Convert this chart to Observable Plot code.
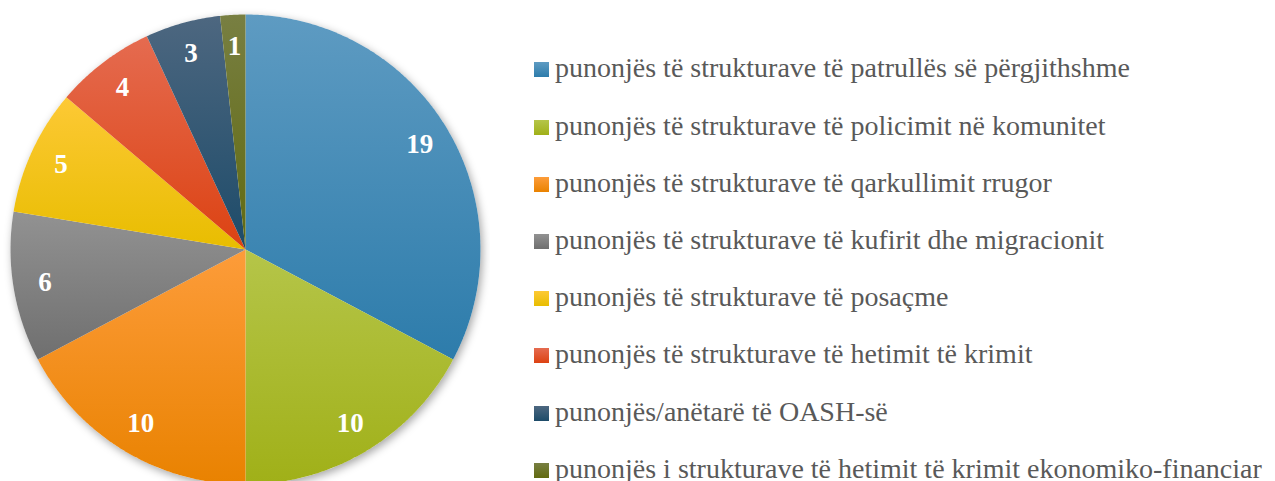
<!DOCTYPE html>
<html><head><meta charset="utf-8">
<script src="https://cdn.jsdelivr.net/npm/d3@7"></script>
<script src="https://cdn.jsdelivr.net/npm/@observablehq/plot@0.6"></script>
<style>
body{margin:0;background:#fff;}
#wrap{display:flex;width:1275px;height:481px;overflow:hidden;}
#chart{width:490px;flex-shrink:0;}
#legend{padding-left:44px;padding-top:41.4px;font-family:"Liberation Serif","Times New Roman",serif;font-size:28px;color:#595959;white-space:nowrap;}
.item{display:flex;align-items:center;height:57.2px;}
.sw{width:15px;height:15px;margin-right:6px;flex-shrink:0;}
.lbl{position:relative;top:-1.5px;}
</style></head>
<body><div id="wrap"><div id="chart"></div><div id="legend"></div></div>
<script>
const categories = [
  "punonjës të strukturave të patrullës së përgjithshme",
  "punonjës të strukturave të policimit në komunitet",
  "punonjës të strukturave të qarkullimit rrugor",
  "punonjës të strukturave të kufirit dhe migracionit",
  "punonjës të strukturave të posaçme",
  "punonjës të strukturave të hetimit të krimit",
  "punonjës/anëtarë të OASH-së",
  "punonjës i strukturave të hetimit të krimit ekonomiko-financiar"
];
const values = [19, 10, 10, 6, 5, 4, 3, 1];
const colorsTop = ["#5e9bc2", "#b5c549", "#fd9c3a", "#929292", "#fdc935", "#e56b50", "#4d6780", "#787f42"];
const colorsBottom = ["#2d7cab", "#a0b018", "#e98200", "#6f6f6f", "#e8bd00", "#dc4212", "#1d4b69", "#616a10"];

const total = d3.sum(values);
const labelR = 0.865;
let cum = 0;
const slices = values.map((v, i) => {
  const a0 = cum / total * 2 * Math.PI;
  cum += v;
  const a1 = cum / total * 2 * Math.PI;
  const n = Math.max(2, Math.ceil((a1 - a0) / (Math.PI / 360)));
  const pts = [{x: 0, y: 0}];
  for (let k = 0; k <= n; k++) {
    const a = a0 + (a1 - a0) * k / n;
    pts.push({x: Math.sin(a), y: Math.cos(a)});
  }
  const am = (a0 + a1) / 2;
  return {pts, label: {x: labelR * Math.sin(am), y: labelR * Math.cos(am), v: String(v)}};
});
const circle = d3.range(0, 721).map(k => ({x: Math.sin(k * Math.PI / 360), y: Math.cos(k * Math.PI / 360)}));

const marks = [
  Plot.line(circle, {x: "x", y: "y", fill: "#ffffff", stroke: "none", curve: "linear-closed"}),
  ...slices.map((s, i) => Plot.line(s.pts, {x: "x", y: "y", fill: `url(#g${i})`, stroke: "none", curve: "linear-closed"})),
  Plot.text(slices.map(s => s.label), {x: "x", y: "y", text: "v", fill: "white", fontSize: 27, fontWeight: "bold", fontFamily: "Liberation Serif"})
];

const svg = Plot.plot({
  width: 490, height: 481, margin: 0,
  x: {domain: [-1, 1], range: [10, 480], axis: null},
  y: {domain: [-1, 1], range: [484, 14], axis: null},
  marks
});
const defs = d3.select(svg).insert("defs", ":first-child");
colorsTop.forEach((c, i) => {
  const g = defs.append("linearGradient").attr("id", `g${i}`).attr("x1", 0).attr("y1", 0).attr("x2", 0).attr("y2", 1);
  g.append("stop").attr("offset", "0%").attr("stop-color", c);
  g.append("stop").attr("offset", "100%").attr("stop-color", colorsBottom[i]);
});
d3.select(svg).select('g[aria-label="line"]').style("filter", "drop-shadow(2px 3px 4px rgba(0,0,0,0.35))");
document.getElementById("chart").appendChild(svg);

const legend = d3.select("#legend");
categories.forEach((c, i) => {
  const it = legend.append("div").attr("class", "item");
  it.append("div").attr("class", "sw").style("background", `linear-gradient(${colorsTop[i]}, ${colorsBottom[i]})`);
  it.append("span").attr("class", "lbl").text(c);
});
</script>
</body></html>
